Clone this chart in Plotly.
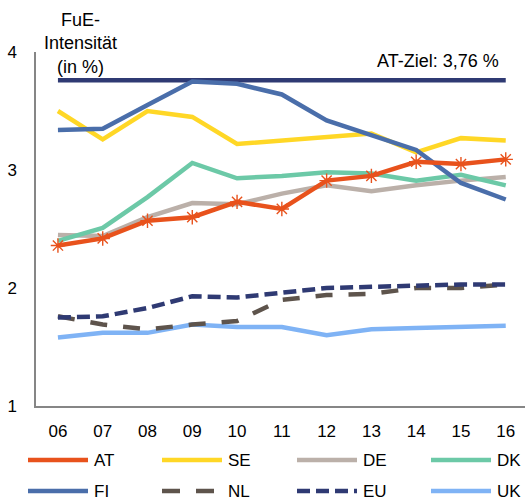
import plotly.graph_objects as go

# Years shown on the category axis
years = ["06", "07", "08", "09", "10", "11", "12", "13", "14", "15", "16"]

# R&D intensity (% of GDP) per country
at = [2.36, 2.42, 2.57, 2.60, 2.73, 2.67, 2.91, 2.95, 3.07, 3.05, 3.09]
se = [3.50, 3.26, 3.50, 3.45, 3.22, 3.25, 3.28, 3.31, 3.15, 3.27, 3.25]
de = [2.45, 2.44, 2.60, 2.72, 2.71, 2.80, 2.87, 2.82, 2.87, 2.91, 2.94]
dk = [2.40, 2.51, 2.77, 3.06, 2.93, 2.95, 2.98, 2.97, 2.91, 2.96, 2.87]
fi = [3.34, 3.35, 3.55, 3.75, 3.73, 3.64, 3.42, 3.29, 3.17, 2.89, 2.75]
nl = [1.76, 1.69, 1.65, 1.69, 1.72, 1.90, 1.94, 1.95, 2.00, 2.00, 2.03]
eu = [1.75, 1.76, 1.83, 1.93, 1.92, 1.96, 2.00, 2.01, 2.02, 2.03, 2.03]
uk = [1.58, 1.62, 1.62, 1.69, 1.67, 1.67, 1.60, 1.65, 1.66, 1.67, 1.68]

# Austrian target value
at_target = 3.76

y_ticks = [1, 2, 3, 4]

FONT = "Arial, Liberation Sans, sans-serif"
W, H = 531, 500
ML, MR, MT, MB = 36, 6, 52, 94
PW, PH = W - ML - MR, H - MT - MB

series = [
    # name, values, colour, dash, marker
    ("UK", uk, "#7FB3F5", "solid", None),
    ("NL", nl, "#5E544C", "17px,16px", None),
    ("EU", eu, "#2F3A73", "13px,6px", None),
    ("DE", de, "#BBB0A9", "solid", None),
    ("DK", dk, "#6CC9A7", "solid", None),
    ("SE", se, "#FFD726", "solid", None),
    ("FI", fi, "#4A6EAA", "solid", None),
    ("AT", at, "#E8521C", "solid", "asterisk-open"),
]
style = {s[0]: s for s in series}

x = list(range(len(years)))
fig = go.Figure()

# target line
fig.add_trace(go.Scatter(
    x=x, y=[at_target] * len(x), mode="lines",
    line=dict(color="#2F3A73", width=4.5), showlegend=False, hoverinfo="skip",
))

for name, vals, col, dash, sym in series:
    fig.add_trace(go.Scatter(
        x=x, y=vals, name=name,
        mode="lines+markers" if sym else "lines",
        line=dict(color=col, width=4.5, dash=dash),
        marker=dict(symbol=sym, size=12, line=dict(color=col, width=1.4)) if sym else None,
        showlegend=False,
    ))


def px_x(p):
    return (p - ML) / PW


def px_y(p):
    return (H - MB - p) / PH


# custom legend, two rows of four entries
legend_rows = [["AT", "SE", "DE", "DK"], ["FI", "NL", "EU", "UK"]]
col_x = [28, 162, 297, 431]
row_y = [460, 491]
shapes = []
annotations = []
for r, row in enumerate(legend_rows):
    for c, name in enumerate(row):
        _, _, col, dash, sym = style[name]
        x0, x1, yy = col_x[c], col_x[c] + 60, row_y[r]
        shapes.append(dict(
            type="line", xref="paper", yref="paper",
            x0=px_x(x0), x1=px_x(x1), y0=px_y(yy), y1=px_y(yy),
            line=dict(color=col, width=4.5,
                      dash="18px,16px" if name == "NL" else dash),
        ))
        annotations.append(dict(
            xref="paper", yref="paper", x=px_x(x1 + 4), y=px_y(yy),
            text=name, showarrow=False, xanchor="left", yanchor="middle",
            font=dict(family=FONT, size=17, color="#000000"),
        ))
        if sym:
            fig.add_trace(go.Scatter(
                x=[px_x(x0 + 30)], y=[px_y(yy)], xaxis="x2", yaxis="y2",
                mode="markers", showlegend=False, hoverinfo="skip",
                marker=dict(symbol=sym, size=12, color=col,
                            line=dict(color=col, width=1.4)),
            ))

annotations.append(dict(
    xref="paper", yref="paper", x=px_x(80), y=px_y(44),
    text="FuE-<br>Intensität<br>(in %)", showarrow=False,
    xanchor="center", yanchor="middle",
    font=dict(family=FONT, size=18, color="#000000"),
))
annotations.append(dict(
    xref="paper", yref="paper", x=px_x(501), y=px_y(61),
    text="AT-Ziel: 3,76 %", showarrow=False,
    xanchor="right", yanchor="middle",
    font=dict(family=FONT, size=18, color="#000000"),
))

fig.update_layout(
    width=W, height=H,
    margin=dict(l=ML, r=MR, t=MT, b=MB),
    paper_bgcolor="white", plot_bgcolor="white",
    font=dict(family=FONT, size=17, color="#000000"),
    xaxis=dict(
        tickvals=x, ticktext=years, range=[-0.49, 10.43],
        showgrid=False, zeroline=False, showline=True,
        linecolor="#868686", linewidth=1.5, ticks="",
        ticklabelstandoff=9, tickfont=dict(size=17),
    ),
    yaxis=dict(
        tickvals=y_ticks, range=[1, 4],
        showgrid=False, zeroline=False, showline=True,
        linecolor="#868686", linewidth=1.5, ticks="",
        ticklabelstandoff=14, tickfont=dict(size=17),
    ),
    xaxis2=dict(range=[0, 1], overlaying="x", visible=False, domain=[0, 1]),
    yaxis2=dict(range=[0, 1], overlaying="y", visible=False),
    shapes=shapes,
    annotations=annotations,
)

fig.write_html("out.html")
